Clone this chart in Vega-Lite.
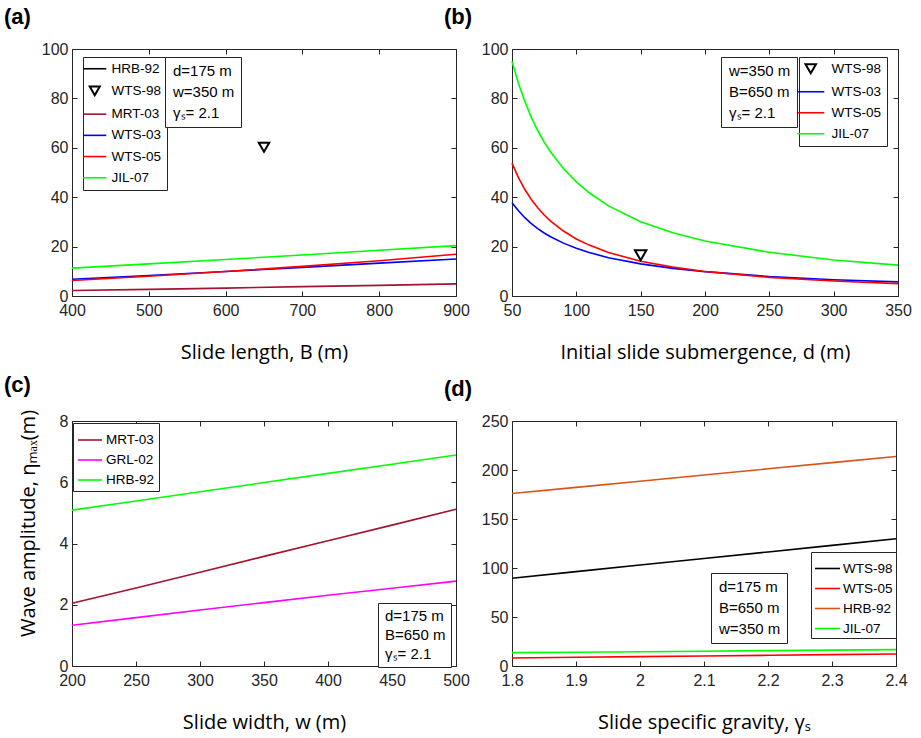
{
  "$schema": "https://vega.github.io/schema/vega-lite/v6.json",
  "padding": {"left": 3, "top": 5, "right": 5, "bottom": 2},
  "background": "white",
  "datasets": {
    "a": [
      {"series": "MRT-03", "x": 400, "y": 2.2}, {"series": "MRT-03", "x": 500, "y": 2.7}, {"series": "MRT-03", "x": 600, "y": 3.2}, {"series": "MRT-03", "x": 700, "y": 3.8}, {"series": "MRT-03", "x": 800, "y": 4.3}, {"series": "MRT-03", "x": 900, "y": 4.9},
      {"series": "WTS-03", "x": 400, "y": 6.8}, {"series": "WTS-03", "x": 500, "y": 8.3}, {"series": "WTS-03", "x": 600, "y": 9.9}, {"series": "WTS-03", "x": 700, "y": 11.6}, {"series": "WTS-03", "x": 800, "y": 13.3}, {"series": "WTS-03", "x": 900, "y": 15.0},
      {"series": "WTS-05", "x": 400, "y": 6.3}, {"series": "WTS-05", "x": 500, "y": 8.0}, {"series": "WTS-05", "x": 600, "y": 9.9}, {"series": "WTS-05", "x": 700, "y": 12.0}, {"series": "WTS-05", "x": 800, "y": 14.3}, {"series": "WTS-05", "x": 900, "y": 16.9},
      {"series": "JIL-07", "x": 400, "y": 11.3}, {"series": "JIL-07", "x": 500, "y": 13.0}, {"series": "JIL-07", "x": 600, "y": 14.8}, {"series": "JIL-07", "x": 700, "y": 16.6}, {"series": "JIL-07", "x": 800, "y": 18.5}, {"series": "JIL-07", "x": 900, "y": 20.4}
    ],
    "a_pt": [{"series": "WTS-98", "x": 650, "y": 60.2}],
    "a_par": [{"param": "d=175 m"}, {"param": "w=350 m"}, {"param": "γₛ= 2.1"}],
    "b": [
      {"series": "WTS-03", "x": 50, "y": 37.8}, {"series": "WTS-03", "x": 55, "y": 34.5}, {"series": "WTS-03", "x": 60, "y": 31.7}, {"series": "WTS-03", "x": 65, "y": 29.3}, {"series": "WTS-03", "x": 70, "y": 27.3}, {"series": "WTS-03", "x": 75, "y": 25.5}, {"series": "WTS-03", "x": 80, "y": 24.0}, {"series": "WTS-03", "x": 90, "y": 21.4}, {"series": "WTS-03", "x": 100, "y": 19.3}, {"series": "WTS-03", "x": 110, "y": 17.6}, {"series": "WTS-03", "x": 125, "y": 15.5}, {"series": "WTS-03", "x": 150, "y": 13.0}, {"series": "WTS-03", "x": 175, "y": 11.2}, {"series": "WTS-03", "x": 200, "y": 9.85}, {"series": "WTS-03", "x": 250, "y": 7.9}, {"series": "WTS-03", "x": 300, "y": 6.6}, {"series": "WTS-03", "x": 350, "y": 5.7},
      {"series": "WTS-05", "x": 50, "y": 53.8}, {"series": "WTS-05", "x": 55, "y": 47.9}, {"series": "WTS-05", "x": 60, "y": 43.1}, {"series": "WTS-05", "x": 65, "y": 39.1}, {"series": "WTS-05", "x": 70, "y": 35.7}, {"series": "WTS-05", "x": 75, "y": 32.8}, {"series": "WTS-05", "x": 80, "y": 30.3}, {"series": "WTS-05", "x": 90, "y": 26.3}, {"series": "WTS-05", "x": 100, "y": 23.1}, {"series": "WTS-05", "x": 110, "y": 20.6}, {"series": "WTS-05", "x": 125, "y": 17.6}, {"series": "WTS-05", "x": 150, "y": 14.1}, {"series": "WTS-05", "x": 175, "y": 11.7}, {"series": "WTS-05", "x": 200, "y": 9.9}, {"series": "WTS-05", "x": 250, "y": 7.55}, {"series": "WTS-05", "x": 300, "y": 6.05}, {"series": "WTS-05", "x": 350, "y": 5.0},
      {"series": "JIL-07", "x": 50, "y": 95.0}, {"series": "JIL-07", "x": 55, "y": 86.0}, {"series": "JIL-07", "x": 60, "y": 78.8}, {"series": "JIL-07", "x": 65, "y": 72.3}, {"series": "JIL-07", "x": 70, "y": 67.0}, {"series": "JIL-07", "x": 75, "y": 62.3}, {"series": "JIL-07", "x": 80, "y": 58.3}, {"series": "JIL-07", "x": 90, "y": 51.6}, {"series": "JIL-07", "x": 100, "y": 46.2}, {"series": "JIL-07", "x": 110, "y": 41.8}, {"series": "JIL-07", "x": 125, "y": 36.5}, {"series": "JIL-07", "x": 150, "y": 30.1}, {"series": "JIL-07", "x": 175, "y": 25.6}, {"series": "JIL-07", "x": 200, "y": 22.3}, {"series": "JIL-07", "x": 250, "y": 17.7}, {"series": "JIL-07", "x": 300, "y": 14.6}, {"series": "JIL-07", "x": 350, "y": 12.5}
    ],
    "b_pt": [{"series": "WTS-98", "x": 150, "y": 16.5}],
    "b_par": [{"param": "w=350 m"}, {"param": "B=650 m"}, {"param": "γₛ= 2.1"}],
    "c": [
      {"series": "MRT-03", "x": 200, "y": 2.05}, {"series": "MRT-03", "x": 250, "y": 2.55}, {"series": "MRT-03", "x": 300, "y": 3.06}, {"series": "MRT-03", "x": 350, "y": 3.58}, {"series": "MRT-03", "x": 400, "y": 4.09}, {"series": "MRT-03", "x": 450, "y": 4.6}, {"series": "MRT-03", "x": 500, "y": 5.12},
      {"series": "GRL-02", "x": 200, "y": 1.33}, {"series": "GRL-02", "x": 250, "y": 1.58}, {"series": "GRL-02", "x": 300, "y": 1.83}, {"series": "GRL-02", "x": 350, "y": 2.07}, {"series": "GRL-02", "x": 400, "y": 2.31}, {"series": "GRL-02", "x": 450, "y": 2.54}, {"series": "GRL-02", "x": 500, "y": 2.77},
      {"series": "HRB-92", "x": 200, "y": 5.09}, {"series": "HRB-92", "x": 250, "y": 5.39}, {"series": "HRB-92", "x": 300, "y": 5.69}, {"series": "HRB-92", "x": 350, "y": 5.99}, {"series": "HRB-92", "x": 400, "y": 6.29}, {"series": "HRB-92", "x": 450, "y": 6.59}, {"series": "HRB-92", "x": 500, "y": 6.89}
    ],
    "c_par": [{"param": "d=175 m"}, {"param": "B=650 m"}, {"param": "γₛ= 2.1"}],
    "d": [
      {"series": "WTS-98", "x": 1.8, "y": 89.6}, {"series": "WTS-98", "x": 1.9, "y": 96.3}, {"series": "WTS-98", "x": 2.0, "y": 103.0}, {"series": "WTS-98", "x": 2.1, "y": 109.7}, {"series": "WTS-98", "x": 2.2, "y": 116.4}, {"series": "WTS-98", "x": 2.3, "y": 123.1}, {"series": "WTS-98", "x": 2.4, "y": 129.8},
      {"series": "WTS-05", "x": 1.8, "y": 8.2}, {"series": "WTS-05", "x": 1.9, "y": 8.9}, {"series": "WTS-05", "x": 2.0, "y": 9.6}, {"series": "WTS-05", "x": 2.1, "y": 10.2}, {"series": "WTS-05", "x": 2.2, "y": 10.9}, {"series": "WTS-05", "x": 2.3, "y": 11.6}, {"series": "WTS-05", "x": 2.4, "y": 12.3},
      {"series": "HRB-92", "x": 1.8, "y": 176.0}, {"series": "HRB-92", "x": 1.9, "y": 182.3}, {"series": "HRB-92", "x": 2.0, "y": 188.6}, {"series": "HRB-92", "x": 2.1, "y": 194.9}, {"series": "HRB-92", "x": 2.2, "y": 201.2}, {"series": "HRB-92", "x": 2.3, "y": 207.5}, {"series": "HRB-92", "x": 2.4, "y": 213.8},
      {"series": "JIL-07", "x": 1.8, "y": 13.6}, {"series": "JIL-07", "x": 1.9, "y": 14.1}, {"series": "JIL-07", "x": 2.0, "y": 14.6}, {"series": "JIL-07", "x": 2.1, "y": 15.1}, {"series": "JIL-07", "x": 2.2, "y": 15.7}, {"series": "JIL-07", "x": 2.3, "y": 16.2}, {"series": "JIL-07", "x": 2.4, "y": 16.7}
    ],
    "d_par": [{"param": "d=175 m"}, {"param": "B=650 m"}, {"param": "w=350 m"}]
  },
  "columns": 2,
  "bounds": "flush",
  "spacing": {"column": 56, "row": 125},
  "concat": [
    {
      "width": 384, "height": 247,
      "title": {"text": "(a)"},
      "layer": [
        {
          "data": {"name": "a"},
          "mark": {"type": "line", "strokeWidth": 1.6},
          "encoding": {
            "x": {"field": "x", "type": "quantitative", "scale": {"domain": [400, 900], "nice": false, "zero": false}, "axis": {"title": "Slide length, B (m)", "values": [400, 500, 600, 700, 800, 900]}},
            "y": {"field": "y", "type": "quantitative", "scale": {"domain": [0, 100], "nice": false}, "axis": {"title": null, "values": [0, 20, 40, 60, 80, 100]}},
            "color": {"field": "series", "type": "nominal",
              "scale": {"domain": ["HRB-92", "WTS-98", "MRT-03", "WTS-03", "WTS-05", "JIL-07"], "range": ["#000000", "#000000", "#A2142F", "#0000FF", "#FF0000", "#00FF00"]},
              "legend": {"orient": "none", "legendX": 11, "legendY": 8, "title": null, "symbolType": "stroke", "symbolSize": 530, "symbolStrokeWidth": 1.6, "symbolFillColor": "transparent", "labelOffset": 10, "rowPadding": 6.2,
                "encode": {"symbols": {"update": {"shape": {"signal": "datum.value === 'WTS-98' ? 'triangle-down' : 'stroke'"}, "size": {"signal": "datum.value === 'WTS-98' ? 100 : 530"}, "strokeWidth": {"signal": "datum.value === 'WTS-98' ? 2 : 1.6"}}}}}}
          }
        },
        {
          "data": {"name": "a_pt"},
          "mark": {"type": "point", "shape": "triangle-down", "filled": false, "size": 110, "strokeWidth": 2, "opacity": 1, "color": "#000000"},
          "encoding": {
            "x": {"field": "x", "type": "quantitative", "axis": null},
            "y": {"field": "y", "type": "quantitative", "axis": null}
          }
        },
        {
          "data": {"name": "a"},
          "mark": {"type": "line", "opacity": 0},
          "encoding": {
            "x": {"field": "x", "type": "quantitative", "axis": {"orient": "top", "labels": false, "title": null, "values": [400, 500, 600, 700, 800, 900]}},
            "y": {"field": "y", "type": "quantitative", "axis": {"orient": "right", "labels": false, "title": null, "values": [0, 20, 40, 60, 80, 100]}}
          }
        },
        {
          "data": {"name": "a_par"},
          "mark": {"type": "point", "opacity": 0},
          "encoding": {
            "fill": {"field": "param", "type": "nominal", "scale": {"domain": ["d=175 m", "w=350 m", "γₛ= 2.1"], "range": ["white"]},
              "legend": {"orient": "none", "legendX": 93, "legendY": 8, "title": null, "symbolSize": 0, "symbolOpacity": 0, "labelOffset": -13, "labelFont": "Liberation Sans", "labelFontSize": 15, "rowPadding": 5, "padding": 6}}
          }
        }
      ],
      "resolve": {"axis": {"x": "independent", "y": "independent"}}
    },
    {
      "width": 386, "height": 247,
      "title": {"text": "(b)"},
      "layer": [
        {
          "data": {"name": "b"},
          "mark": {"type": "line", "strokeWidth": 1.6},
          "encoding": {
            "x": {"field": "x", "type": "quantitative", "scale": {"domain": [50, 350], "nice": false, "zero": false}, "axis": {"title": "Initial slide submergence, d (m)", "values": [50, 100, 150, 200, 250, 300, 350]}},
            "y": {"field": "y", "type": "quantitative", "scale": {"domain": [0, 100], "nice": false}, "axis": {"title": null, "values": [0, 20, 40, 60, 80, 100]}},
            "color": {"field": "series", "type": "nominal",
              "scale": {"domain": ["WTS-98", "WTS-03", "WTS-05", "JIL-07"], "range": ["#000000", "#0000FF", "#FF0000", "#00FF00"]},
              "legend": {"orient": "none", "legendX": 287, "legendY": 8, "title": null, "symbolType": "stroke", "symbolSize": 730, "symbolStrokeWidth": 1.6, "symbolFillColor": "transparent", "labelOffset": 14, "rowPadding": 6,
                "encode": {"symbols": {"update": {"shape": {"signal": "datum.value === 'WTS-98' ? 'triangle-down' : 'stroke'"}, "size": {"signal": "datum.value === 'WTS-98' ? 110 : 730"}, "strokeWidth": {"signal": "datum.value === 'WTS-98' ? 2 : 1.6"}}}}}}
          }
        },
        {
          "data": {"name": "b_pt"},
          "mark": {"type": "point", "shape": "triangle-down", "filled": false, "size": 130, "strokeWidth": 2, "opacity": 1, "color": "#000000"},
          "encoding": {
            "x": {"field": "x", "type": "quantitative", "axis": null},
            "y": {"field": "y", "type": "quantitative", "axis": null}
          }
        },
        {
          "data": {"name": "b"},
          "mark": {"type": "line", "opacity": 0},
          "encoding": {
            "x": {"field": "x", "type": "quantitative", "axis": {"orient": "top", "labels": false, "title": null, "values": [50, 100, 150, 200, 250, 300, 350]}},
            "y": {"field": "y", "type": "quantitative", "axis": {"orient": "right", "labels": false, "title": null, "values": [0, 20, 40, 60, 80, 100]}}
          }
        },
        {
          "data": {"name": "b_par"},
          "mark": {"type": "point", "opacity": 0},
          "encoding": {
            "fill": {"field": "param", "type": "nominal", "scale": {"domain": ["w=350 m", "B=650 m", "γₛ= 2.1"], "range": ["white"]},
              "legend": {"orient": "none", "legendX": 209, "legendY": 8, "title": null, "symbolSize": 0, "symbolOpacity": 0, "labelOffset": -13, "labelFont": "Liberation Sans", "labelFontSize": 15, "rowPadding": 5, "padding": 6}}
          }
        }
      ],
      "resolve": {"axis": {"x": "independent", "y": "independent"}}
    },
    {
      "width": 384, "height": 245,
      "title": {"text": "(c)"},
      "layer": [
        {
          "data": {"name": "c"},
          "mark": {"type": "line", "strokeWidth": 1.6},
          "encoding": {
            "x": {"field": "x", "type": "quantitative", "scale": {"domain": [200, 500], "nice": false, "zero": false}, "axis": {"title": "Slide width, w (m)", "values": [200, 250, 300, 350, 400, 450, 500]}},
            "y": {"field": "y", "type": "quantitative", "scale": {"domain": [0, 8], "nice": false}, "axis": {"title": "Wave amplitude, ηₘₐₓ(m)", "values": [0, 2, 4, 6, 8], "titlePadding": 21, "titleY": 102}},
            "color": {"field": "series", "type": "nominal",
              "scale": {"domain": ["MRT-03", "GRL-02", "HRB-92"], "range": ["#A2142F", "#FF00FF", "#00FF00"]},
              "legend": {"orient": "none", "legendX": 1, "legendY": 2, "title": null, "symbolType": "stroke", "symbolSize": 580, "symbolStrokeWidth": 1.6, "rowPadding": 0, "padding": 4}}
          }
        },
        {
          "data": {"name": "c"},
          "mark": {"type": "line", "opacity": 0},
          "encoding": {
            "x": {"field": "x", "type": "quantitative", "axis": {"orient": "top", "labels": false, "title": null, "values": [200, 250, 300, 350, 400, 450, 500]}},
            "y": {"field": "y", "type": "quantitative", "axis": {"orient": "right", "labels": false, "title": null, "values": [0, 2, 4, 6, 8]}}
          }
        },
        {
          "data": {"name": "c_par"},
          "mark": {"type": "point", "opacity": 0},
          "encoding": {
            "fill": {"field": "param", "type": "nominal", "scale": {"domain": ["d=175 m", "B=650 m", "γₛ= 2.1"], "range": ["white"]},
              "legend": {"orient": "none", "legendX": 306, "legendY": 182, "title": null, "symbolSize": 0, "symbolOpacity": 0, "labelOffset": -13, "labelFont": "Liberation Sans", "labelFontSize": 15, "rowPadding": 3, "padding": 5}}
          }
        }
      ],
      "resolve": {"axis": {"x": "independent", "y": "independent"}}
    },
    {
      "width": 384, "height": 245,
      "title": {"text": "(d)"},
      "layer": [
        {
          "data": {"name": "d"},
          "mark": {"type": "line", "strokeWidth": 1.6},
          "encoding": {
            "x": {"field": "x", "type": "quantitative", "scale": {"domain": [1.8, 2.4], "nice": false, "zero": false}, "axis": {"title": "Slide specific gravity, γₛ", "values": [1.8, 1.9, 2.0, 2.1, 2.2, 2.3, 2.4], "format": "~g"}},
            "y": {"field": "y", "type": "quantitative", "scale": {"domain": [0, 250], "nice": false}, "axis": {"title": null, "values": [0, 50, 100, 150, 200, 250]}},
            "color": {"field": "series", "type": "nominal",
              "scale": {"domain": ["WTS-98", "WTS-05", "HRB-92", "JIL-07"], "range": ["#000000", "#FF0000", "#D95319", "#00FF00"]},
              "legend": {"orient": "none", "legendX": 299, "legendY": 131, "title": null, "symbolType": "stroke", "symbolSize": 625, "symbolStrokeWidth": 1.6, "rowPadding": -0.7, "padding": 3, "labelOffset": 2}}
          }
        },
        {
          "data": {"name": "d"},
          "mark": {"type": "line", "opacity": 0},
          "encoding": {
            "x": {"field": "x", "type": "quantitative", "axis": {"orient": "top", "labels": false, "title": null, "values": [1.8, 1.9, 2.0, 2.1, 2.2, 2.3, 2.4]}},
            "y": {"field": "y", "type": "quantitative", "axis": {"orient": "right", "labels": false, "title": null, "values": [0, 50, 100, 150, 200, 250]}}
          }
        },
        {
          "data": {"name": "d_par"},
          "mark": {"type": "point", "opacity": 0},
          "encoding": {
            "fill": {"field": "param", "type": "nominal", "scale": {"domain": ["d=175 m", "B=650 m", "w=350 m"], "range": ["white"]},
              "legend": {"orient": "none", "legendX": 199, "legendY": 152, "title": null, "symbolSize": 0, "symbolOpacity": 0, "labelOffset": -13, "labelFont": "Liberation Sans", "labelFontSize": 15, "rowPadding": 5, "padding": 6}}
          }
        }
      ],
      "resolve": {"axis": {"x": "independent", "y": "independent"}}
    }
  ],
  "resolve": {"scale": {"color": "independent", "fill": "independent"}},
  "config": {
    "view": {"stroke": "#262626", "strokeWidth": 1},
    "axis": {
      "domain": false, "grid": false,
      "tickSize": -5, "tickColor": "#262626", "tickWidth": 1,
      "labelFont": "Liberation Sans", "labelFontSize": 16, "labelColor": "#262626",
      "labelFlush": false, "labelOverlap": false,
      "titleFont": "Open Sans", "titleFontSize": 20, "titleFontWeight": "normal", "titleColor": "#000000"
    },
    "axisX": {"labelPadding": 11, "titlePadding": 24},
    "axisY": {"labelPadding": 9, "titlePadding": 16},
    "legend": {
      "labelFont": "Liberation Sans", "labelFontSize": 13.5, "labelColor": "#000000",
      "strokeColor": "#262626", "fillColor": "white", "padding": 5, "rowPadding": 4, "labelOffset": 3
    },
    "title": {"font": "Liberation Sans", "fontSize": 22, "fontWeight": "bold", "anchor": "start", "frame": "group", "dx": -68, "offset": 12, "color": "#000000"}
  }
}
